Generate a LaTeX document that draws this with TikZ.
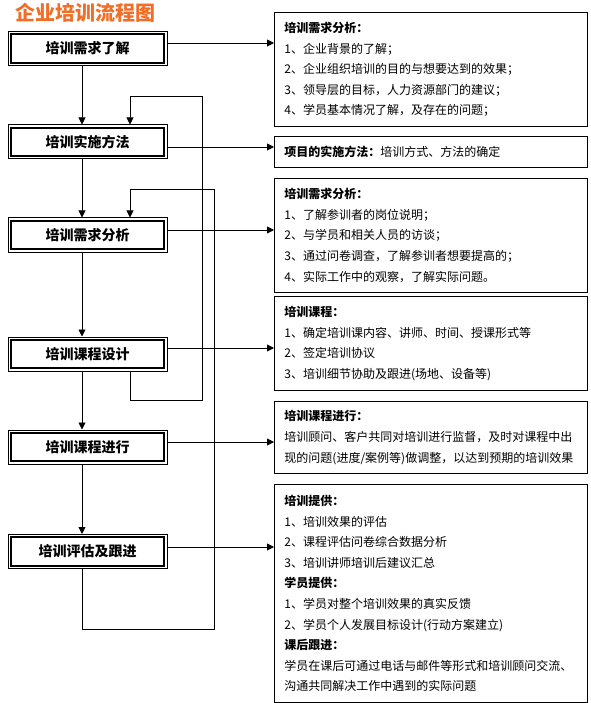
\documentclass[tikz,border=0pt]{standalone}
\usepackage{fontspec}
\setmainfont{Noto Sans CJK SC}
\usetikzlibrary{arrows.meta}
\definecolor{titleorange}{RGB}{240,110,40}
\tikzset{
  x=1pt, y=-1pt,
  stepbox/.style={draw, line width=1pt, minimum width=159pt, minimum height=34pt,
    inner sep=0pt, font=\fontsize{14}{16}\selectfont\bfseries,
    append after command={\pgfextra{\draw[line width=1.8pt]
      ([shift={(3.2pt,-3.2pt)}]\tikzlastnode.north west) rectangle
      ([shift={(-3.2pt,3.2pt)}]\tikzlastnode.south east);}}},
  infobox/.style={draw, line width=0.9pt, anchor=north west, minimum width=313pt,
    text width=293pt, inner xsep=10pt, inner ysep=0pt, align=left,
    font=\fontsize{12}{20.6}\selectfont},
  arr/.style={line width=0.9pt, -{Triangle[length=7pt,width=7pt]}},
  ln/.style={line width=0.9pt}
}
\begin{document}
\begin{tikzpicture}
\useasboundingbox (0,0) rectangle (590,703);
\node[anchor=west, text=titleorange, font=\fontsize{20}{22}\selectfont\bfseries, inner sep=0pt] (title) at (15,13) {企业培训流程图};

\node[stepbox] (b1) at (87.5,48.5) {培训需求了解};
\node[stepbox] (b2) at (87.5,142) {培训实施方法};
\node[stepbox] (b3) at (87.5,235) {培训需求分析};
\node[stepbox] (b4) at (87.5,354) {培训课程设计};
\node[stepbox] (b5) at (87.5,447) {培训课程进行};
\node[stepbox] (b6) at (87.5,551.5) {培训评估及跟进};

\node[infobox, minimum height=114pt] (r1) at (274,12) {\textbf{培训需求分析：}\\1、企业背景的了解；\\2、企业组织培训的目的与想要达到的效果；\\3、领导层的目标，人力资源部门的建议；\\4、学员基本情况了解，及存在的问题；};
\node[infobox, minimum height=31pt] (r2) at (274,136) {\textbf{项目的实施方法：}培训方式、方法的确定};
\node[infobox, minimum height=114pt] (r3) at (274,178) {\textbf{培训需求分析：}\\1、了解参训者的岗位说明；\\2、与学员和相关人员的访谈；\\3、通过问卷调查，了解参训者想要提高的；\\4、实际工作中的观察，了解实际问题。};
\node[infobox, minimum height=94pt] (r4) at (274,296) {\textbf{培训课程：}\\1、确定培训课内容、讲师、时间、授课形式等\\2、签定培训协议\\3、培训细节协助及跟进(场地、设备等)};
\node[infobox, minimum height=72pt] (r5) at (274,401) {\textbf{培训课程进行：}\\培训顾问、客户共同对培训进行监督，及时对课程中出\\现的问题(进度/案例等)做调整，以达到预期的培训效果};
\node[infobox, minimum height=218pt] (r6) at (274,484) {\textbf{培训提供：}\\1、培训效果的评估\\2、课程评估问卷综合数据分析\\3、培训讲师培训后建议汇总\\\textbf{学员提供：}\\1、学员对整个培训效果的真实反馈\\2、学员个人发展目标设计(行动方案建立)\\\textbf{课后跟进：}\\学员在课后可通过电话与邮件等形式和培训顾问交流、\\沟通共同解决工作中遇到的实际问题};

% main vertical flow
\coordinate (mx) at (82,0);
\coordinate (lx) at (130,0);
\draw[arr] (b1.south -| mx) -- (b2.north -| mx);
\draw[arr] (b2.south -| mx) -- (b3.north -| mx);
\draw[arr] (b3.south -| mx) -- (b4.north -| mx);
\draw[arr] (b4.south -| mx) -- (b5.north -| mx);
\draw[arr] (b5.south -| mx) -- (b6.north -| mx);

% feedback loops
\coordinate (p1) at (202,400);
\coordinate (p2) at (202,96);
\draw[arr] (b4.south -| lx) |- (p1) -- (p2) -| (b2.north -| lx);
\coordinate (q1) at (214,629);
\coordinate (q2) at (214,189);
\draw[arr] (b6.south -| mx) |- (q1) -- (q2) -| (b3.north -| lx);

% horizontal arrows
\coordinate (a1) at (0,43);
\coordinate (a2) at (0,147);
\coordinate (a3) at (0,230);
\coordinate (a4) at (0,348);
\coordinate (a5) at (0,442);
\coordinate (a6) at (0,547);
\draw[arr] (b1.east |- a1) -- (r1.west |- a1);
\draw[arr] (b2.east |- a2) -- (r2.west |- a2);
\draw[arr] (b3.east |- a3) -- (r3.west |- a3);
\draw[arr] (b4.east |- a4) -- (r4.west |- a4);
\draw[arr] (b5.east |- a5) -- (r5.west |- a5);
\draw[arr] (b6.east |- a6) -- (r6.west |- a6);
\end{tikzpicture}
\end{document}
